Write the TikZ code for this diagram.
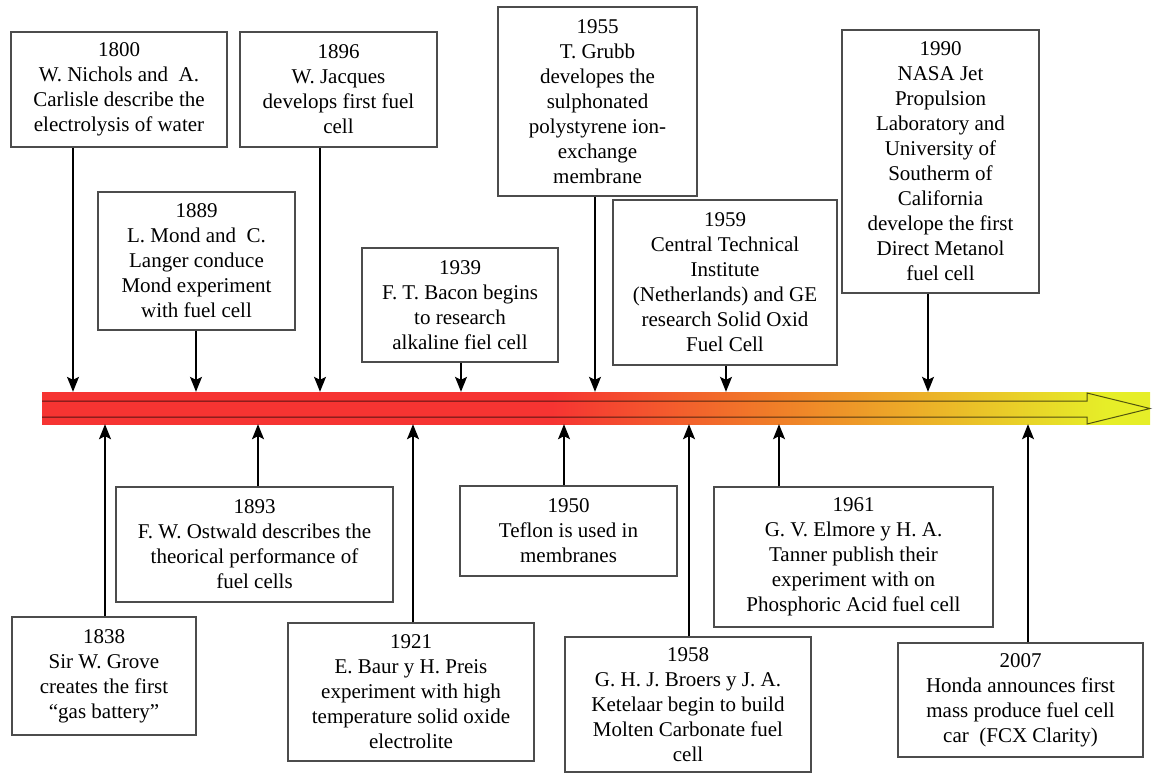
\documentclass[tikz,border=0pt]{standalone}
\usepackage{fontspec}
\setmainfont{Liberation Serif}
\usetikzlibrary{arrows.meta}

\definecolor{barred}{RGB}{246,52,50}
\definecolor{barorange}{RGB}{240,125,40}
\definecolor{baryellow}{RGB}{230,238,40}
\pgfdeclarehorizontalshading{barshade}{100bp}{color(0bp)=(barred); color(25bp)=(barred);
  color(48bp)=(barred); color(58bp)=(barorange); color(73bp)=(baryellow);
  color(75bp)=(baryellow); color(100bp)=(baryellow)}

\begin{document}
\begin{tikzpicture}[x=1pt, y=-1pt,
  event/.style = {draw=black!70, line width=1.2pt, fill=white, align=center,
    inner sep=0pt, font=\fontsize{21}{25}\selectfont},
  arr/.style = {line width=1.2pt, -{Stealth[length=15pt,width=12pt,inset=3pt]}}
  ]
  \useasboundingbox (0,0) rectangle (1153,774);

  \node (bar) [minimum width=1108pt, minimum height=32pt, inner sep=0pt,
    shade, shading=barshade] at (596,408) {};
  \draw[line width=1pt, draw opacity=0.65] (42,401) -- (1087,401) -- (1087,393)
    -- (1150,408.5) -- (1087,424) -- (1087,417) -- (42,417);

  \node (e1800) [event, minimum width=216pt, minimum height=115pt] at (119,89.5)
    {1800\\ W. Nichols and~~A.\\ Carlisle describe the\\ electrolysis of water};
  \node (e1896) [event, minimum width=197pt, minimum height=115pt] at (338.5,89.5)
    {1896\\ W. Jacques\\ develops first fuel\\ cell};
  \node (e1889) [event, minimum width=197pt, minimum height=138pt] at (196.5,261)
    {1889\\ L. Mond and~~C.\\ Langer conduce\\ Mond experiment\\ with fuel cell};
  \node (e1939) [event, minimum width=196pt, minimum height=114pt] at (460,305)
    {1939\\ F. T. Bacon begins\\ to research\\ alkaline fiel cell};
  \node (e1955) [event, minimum width=199pt, minimum height=189pt] at (597.5,101.5)
    {1955\\ T. Grubb\\ developes the\\ sulphonated\\ polystyrene ion-\\ exchange\\ membrane};
  \node (e1959) [event, minimum width=224pt, minimum height=165pt] at (725,282.5)
    {1959\\ Central Technical\\ Institute\\ (Netherlands) and GE\\ research Solid Oxid\\ Fuel Cell};
  \node (e1990) [event, minimum width=197pt, minimum height=263pt] at (940.5,161.5)
    {1990\\ NASA Jet\\ Propulsion\\ Laboratory and\\ University of\\ Southerm of\\ California\\ develope the first\\ Direct Metanol\\ fuel cell};

  \node (e1838) [event, minimum width=184pt, minimum height=118pt] at (104,676)
    {1838\\ Sir W. Grove\\ creates the first\\ “gas battery”};
  \node (e1893) [event, minimum width=277pt, minimum height=115pt] at (254.5,544.5)
    {1893\\ F. W. Ostwald describes the\\ theorical performance of\\ fuel cells};
  \node (e1921) [event, minimum width=246pt, minimum height=138pt] at (411,692)
    {1921\\ E. Baur y H. Preis\\ experiment with high\\ temperature solid oxide\\ electrolite};
  \node (e1950) [event, minimum width=217pt, minimum height=90pt] at (568.5,531)
    {1950\\ Teflon is used in\\ membranes};
  \node (e1958) [event, minimum width=246pt, minimum height=135pt] at (688,704.5)
    {1958\\ G. H. J. Broers y J. A.\\ Ketelaar begin to build\\ Molten Carbonate fuel\\ cell};
  \node (e1961) [event, minimum width=279pt, minimum height=140pt] at (853.5,557)
    {1961\\ G. V. Elmore y H. A.\\ Tanner publish their\\ experiment with on\\ Phosphoric Acid fuel cell};
  \node (e2007) [event, minimum width=245pt, minimum height=114pt] at (1020.5,700)
    {2007\\ Honda announces first\\ mass produce fuel cell\\ car~~(FCX Clarity)};

  \foreach \n/\x in {e1800/73, e1889/196, e1896/320, e1939/461, e1955/595,
      e1959/726, e1990/928}
    \draw[arr] (\n.south -| \x,0) -- (bar.north -| \x,0);
  \foreach \n/\x in {e1838/105, e1893/258, e1921/413, e1950/564, e1958/689,
      e1961/779, e2007/1028}
    \draw[arr] (\n.north -| \x,0) -- (bar.south -| \x,0);
\end{tikzpicture}
\end{document}
